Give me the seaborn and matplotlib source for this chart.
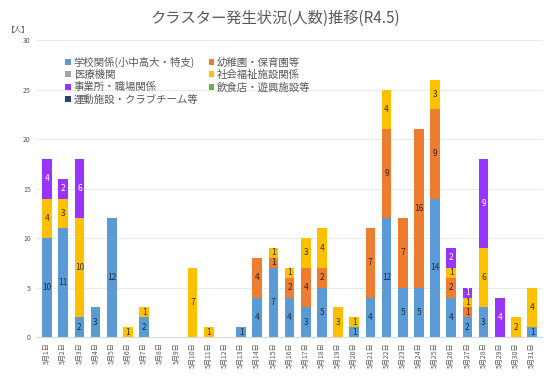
import matplotlib
matplotlib.use("Agg")
import matplotlib.pyplot as plt
import seaborn as sns
import pandas as pd
import numpy as np

sns.set_style("white")
plt.rcParams["font.family"] = ["Noto Sans CJK JP", "DejaVu Sans"]

# data
days = [f"5月{d}日" for d in range(1, 32)]
categories = ["学校関係(小中高大・特支)", "幼稚園・保育園等", "医療機関", "社会福祉施設関係",
              "事業所・職場関係", "飲食店・遊興施設等", "運動施設・クラブチーム等"]
colors = ["#5B9BD5", "#ED7D31", "#A5A5A5", "#FFC000", "#9933FF", "#70AD47", "#264478"]
label_colors = ["#1f2d3d", "#3a2010", "#333333", "#333333", "white", "#333333", "white"]

school =  [10, 11, 2, 3, 12, 0, 2, 0, 0, 0, 0, 0, 1, 4, 7, 4, 3, 5, 0, 1, 4, 12, 5, 5, 14, 4, 2, 3, 0, 0, 1]
kinder =  [0, 0, 0, 0, 0, 0, 0, 0, 0, 0, 0, 0, 0, 4, 1, 2, 4, 2, 0, 0, 7, 9, 7, 16, 9, 2, 1, 0, 0, 0, 0]
medical = [0] * 31
welfare = [4, 3, 10, 0, 0, 1, 1, 0, 0, 7, 1, 0, 0, 0, 1, 1, 3, 4, 3, 1, 0, 4, 0, 0, 3, 1, 1, 6, 0, 2, 4]
work =    [4, 2, 6, 0, 0, 0, 0, 0, 0, 0, 0, 0, 0, 0, 0, 0, 0, 0, 0, 0, 0, 0, 0, 0, 0, 2, 1, 9, 4, 0, 0]
food =    [0] * 31
sports =  [0] * 31
series = [school, kinder, medical, welfare, work, food, sports]

fig, ax = plt.subplots(figsize=(5.5, 3.81), dpi=100)
fig.subplots_adjust(left=0.065, right=0.985, top=0.895, bottom=0.115)

bottom = np.zeros(len(days))
handles = {}
for cat, vals, col, lcol in zip(categories, series, colors, label_colors):
    df = pd.DataFrame({"day": days, "n": vals})
    n_before = len(ax.containers)
    sns.barplot(data=df, x="day", y="n", color=col, width=0.6, bottom=bottom,
                ax=ax, label=cat, linewidth=0, saturation=1)
    cont = ax.containers[n_before]
    handles[cat] = cont
    labels = [str(v) if v > 0 else "" for v in vals]
    ax.bar_label(cont, labels=labels, label_type="center", fontsize=6, color=lcol)
    bottom = bottom + np.array(vals)

ax.set_ylim(0, 30)
ax.set_yticks(range(0, 31, 5))
ax.set_xlim(-0.7, 30.6)
ax.yaxis.grid(True, color="#e6e6e6", linewidth=0.6)
ax.set_axisbelow(True)
for s in ["top", "right", "left"]:
    ax.spines[s].set_visible(False)
ax.spines["bottom"].set_color("#d9d9d9")
ax.tick_params(axis="y", labelsize=5, colors="#595959", length=0)
ax.tick_params(axis="x", labelsize=5, colors="#595959", length=0, rotation=90)
ax.set_xlabel("")
ax.set_ylabel("")

order = [categories[i] for i in [0, 2, 4, 6, 1, 3, 5]]
leg = ax.legend([handles[c] for c in order], order, ncol=2, loc="upper left",
                bbox_to_anchor=(0.04, 0.975), frameon=False, fontsize=7.5,
                handlelength=0.5, handleheight=0.5, handletextpad=0.3,
                columnspacing=1.0, labelspacing=0.2, labelcolor="#595959")

fig.suptitle("クラスター発生状況(人数)推移(R4.5)", fontsize=11, color="#595959", y=0.975)
fig.text(0.012, 0.915, "【人】", fontsize=5.5, color="#595959")

fig.savefig("out.png", dpi=100)
